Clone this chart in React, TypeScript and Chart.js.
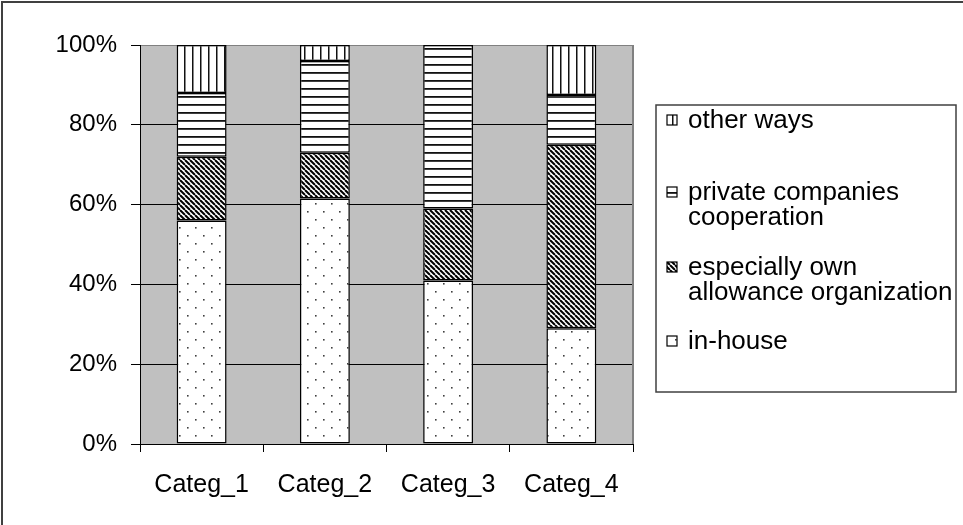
import React, { useEffect, useRef } from "react";
import { Chart, registerables } from "chart.js";

Chart.register(...registerables);

const categories = ["Categ_1", "Categ_2", "Categ_3", "Categ_4"];
const inHouse = [56, 61.5, 41, 29];
const especiallyOwn = [16, 11.5, 18, 46];
const privateCoop = [16, 23, 41, 12.5];
const otherWays = [12, 4, 0, 12.5];
const yTicks = [0, 20, 40, 60, 80, 100];
const legendItems = [
  { key: "other", lines: ["other ways"] },
  { key: "private", lines: ["private companies", "cooperation"] },
  { key: "especially", lines: ["especially own", "allowance organization"] },
  { key: "inhouse", lines: ["in-house"] },
];

const FONT = "'Liberation Sans', Arial, sans-serif";
const FS = 24;
const XFS = 25;
const LFS = 26;

function makePattern(kind: string): CanvasPattern | string {
  const c = document.createElement("canvas");
  const g = c.getContext("2d")!;
  if (kind === "inhouse") {
    c.width = 16; c.height = 16;
    g.fillStyle = "#fff"; g.fillRect(0, 0, 16, 16);
    g.fillStyle = "#404040";
    g.fillRect(3, 3, 1.6, 1.6);
    g.fillRect(11, 11, 1.6, 1.6);
  } else if (kind === "especially") {
    c.width = 5; c.height = 5;
    g.fillStyle = "#fff"; g.fillRect(0, 0, 5, 5);
    g.strokeStyle = "#000"; g.lineWidth = 2;
    for (let o = -10; o <= 10; o += 5) {
      g.beginPath(); g.moveTo(o, 0); g.lineTo(o + 5, 5); g.stroke();
    }
  } else if (kind === "private") {
    c.width = 8; c.height = 8;
    g.fillStyle = "#fff"; g.fillRect(0, 0, 8, 8);
    g.fillStyle = "#111"; g.fillRect(0, 0, 8, 1.8);
  } else {
    c.width = 8; c.height = 8;
    g.fillStyle = "#fff"; g.fillRect(0, 0, 8, 8);
    g.fillStyle = "#111"; g.fillRect(0, 0, 1.5, 8);
  }
  return g.createPattern(c, "repeat")!;
}

export default function App() {
  const ref = useRef<HTMLCanvasElement | null>(null);
  useEffect(() => {
    const canvas = ref.current!;
    const pats: Record<string, any> = {
      inhouse: makePattern("inhouse"),
      especially: makePattern("especially"),
      private: makePattern("private"),
      other: makePattern("other"),
    };
    const bgPlugin = {
      id: "plotbg",
      beforeDraw(chart: any) {
        const { ctx, chartArea: a } = chart;
        ctx.save();
        ctx.fillStyle = "#C0C0C0";
        ctx.fillRect(a.left, a.top, a.right - a.left, a.bottom - a.top);
        ctx.restore();
      },
      afterDraw(chart: any) {
        const { ctx, chartArea: a } = chart;
        ctx.save();
        ctx.strokeStyle = "#808080";
        ctx.lineWidth = 2;
        ctx.beginPath();
        ctx.moveTo(a.right, a.top);
        ctx.lineTo(a.right, a.bottom);
        ctx.stroke();
        // legend
        const lx = 656, ly = 105, lw = 300, lh = 287;
        ctx.fillStyle = "#fff";
        ctx.fillRect(lx, ly, lw, lh);
        ctx.strokeStyle = "#404040";
        ctx.lineWidth = 1.5;
        ctx.strokeRect(lx, ly, lw, lh);
        const centers = [121, 193, 268, 342];
        ctx.font = `${LFS}px ${FONT}`;
        ctx.textBaseline = "middle";
        ctx.textAlign = "left";
        legendItems.forEach((it, i) => {
          const cy = centers[i];
          ctx.fillStyle = pats[it.key];
          ctx.fillRect(667, cy - 6, 10, 10);
          ctx.strokeStyle = "#000";
          ctx.lineWidth = 1.2;
          ctx.strokeRect(667, cy - 6, 10, 10);
          ctx.fillStyle = "#000";
          it.lines.forEach((ln, j) => ctx.fillText(ln, 688, cy + j * 25));
        });
        ctx.restore();
      },
    };
    const mk = (label: string, data: number[], key: string) => ({
      label,
      data,
      backgroundColor: pats[key],
      borderColor: "#000",
      borderWidth: 1.5,
      borderSkipped: false as any,
      categoryPercentage: 1,
      barPercentage: 0.405,
    });
    const chart = new Chart(canvas, {
      type: "bar",
      data: {
        labels: categories,
        datasets: [
          mk("in-house", inHouse, "inhouse"),
          mk("especially own allowance organization", especiallyOwn, "especially"),
          mk("private companies cooperation", privateCoop, "private"),
          mk("other ways", otherWays, "other"),
        ],
      },
      options: {
        animation: false,
        responsive: false,
        maintainAspectRatio: false,
        layout: { padding: { left: 0, top: 45, right: 330, bottom: 0 } },
        plugins: { legend: { display: false }, tooltip: { enabled: false } },
        scales: {
          x: {
            stacked: true,
            grid: { drawOnChartArea: false, tickLength: 8, color: "#000", offset: true },
            border: { color: "#000", width: 1 },
            ticks: { color: "#000", font: { family: FONT, size: XFS }, padding: 18, maxRotation: 0 },
            afterFit(s: any) { s.height = 81; },
          },
          y: {
            stacked: true,
            min: 0,
            max: 100,
            afterBuildTicks(s: any) { s.ticks = yTicks.map((v) => ({ value: v })); },
            grid: {
              color: (c: any) => (c.tick && c.tick.value === 100 ? "#808080" : "#000"),
              tickColor: "#000",
              tickLength: 9,
              lineWidth: 1,
            },
            border: { color: "#000", width: 1 },
            ticks: {
              color: "#000",
              font: { family: FONT, size: FS },
              padding: 14,
              callback: (v: any) => `${v}%`,
            },
            afterFit(s: any) { s.width = 140; },
          },
        },
      },
      plugins: [bgPlugin],
    });
    return () => chart.destroy();
  }, []);
  return (
    <div style={{ position: "fixed", left: 0, top: 0, width: 963, height: 525, background: "#fff", overflow: "hidden" }}>
      <canvas ref={ref} width={963} height={525} style={{ position: "absolute", left: 0, top: 0, width: 963, height: 525 }} />
      <div style={{ position: "absolute", left: 1, top: 1, width: 1000, height: 600, borderLeft: "2px solid #404040", borderTop: "2px solid #404040", pointerEvents: "none" }} />
    </div>
  );
}
